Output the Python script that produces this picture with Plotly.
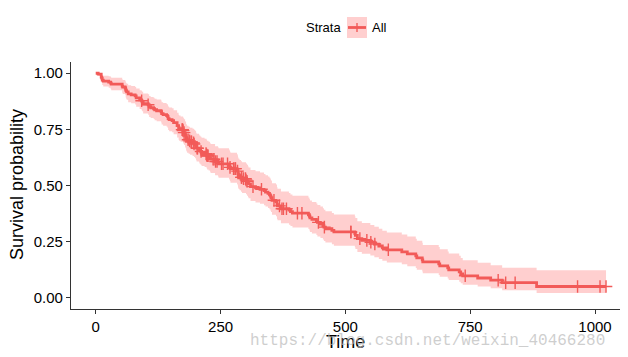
import numpy as np
import plotly.graph_objects as go

# Kaplan-Meier estimate (step times, survival, 95% CI)
times = [0, 5, 11, 12, 13, 15, 26, 30, 31, 53, 54, 59, 60, 61, 62, 65, 71, 79, 81, 88, 92, 93, 95, 105, 107, 110,
         116, 118, 122, 131, 132, 135, 142, 144, 145, 147, 153, 156, 163, 166, 167, 170, 175, 176, 177, 179, 180,
         181, 182, 183, 186, 189, 194, 197, 199, 201, 202, 207, 208, 210, 212, 218, 222, 223, 226, 229, 230, 239,
         245, 246, 267, 268, 269, 270, 283, 284, 285, 286, 288, 291, 293, 301, 303, 305, 306, 310, 320, 329, 337,
         340, 345, 348, 350, 351, 353, 361, 363, 364, 371, 387, 390, 394, 426, 428, 429, 433, 442, 444, 450, 455,
         457, 460, 473, 477, 519, 520, 524, 533, 550, 558, 567, 574, 583, 613, 624, 641, 643, 654, 655, 687, 689,
         705, 707, 728, 731, 735, 765, 791, 814, 883, 1022]

surv = [1.0, 0.9956, 0.9825, 0.9781, 0.9693, 0.9649, 0.9605, 0.9561, 0.9518, 0.9430, 0.9386, 0.9342, 0.9254, 0.9211,
        0.9167, 0.9079, 0.9035, 0.8991, 0.8904, 0.8816, 0.8772, 0.8728, 0.8640, 0.8596, 0.8507, 0.8463, 0.8418,
        0.8374, 0.8330, 0.8285, 0.8197, 0.8153, 0.8108, 0.8064, 0.7975, 0.7931, 0.7887, 0.7798, 0.7665, 0.7577,
        0.7532, 0.7488, 0.7443, 0.7398, 0.7353, 0.7262, 0.7217, 0.7126, 0.7081, 0.7035, 0.6989, 0.6943, 0.6897,
        0.6850, 0.6803, 0.6708, 0.6661, 0.6613, 0.6565, 0.6517, 0.6469, 0.6421, 0.6372, 0.6323, 0.6273, 0.6223,
        0.6172, 0.6070, 0.6019, 0.5967, 0.5913, 0.5860, 0.5807, 0.5753, 0.5698, 0.5642, 0.5531, 0.5475, 0.5419,
        0.5363, 0.5306, 0.5248, 0.5189, 0.5129, 0.5070, 0.4950, 0.4890, 0.4830, 0.4768, 0.4707, 0.4646, 0.4585,
        0.4524, 0.4463, 0.4340, 0.4278, 0.4154, 0.4092, 0.3965, 0.3899, 0.3833, 0.3767, 0.3698, 0.3630, 0.3561,
        0.3493, 0.3424, 0.3356, 0.3286, 0.3216, 0.3146, 0.3075, 0.3003, 0.2932, 0.2857, 0.2782, 0.2632, 0.2554,
        0.2474, 0.2392, 0.2306, 0.2221, 0.2136, 0.2047, 0.1958, 0.1869, 0.1780, 0.1691, 0.1602, 0.1513, 0.1424,
        0.1335, 0.1246, 0.1157, 0.1068, 0.0979, 0.0881, 0.0783, 0.0671, 0.0503, 0.0503]

lower = [1.0, 0.9871, 0.9656, 0.9593, 0.9472, 0.9413, 0.9356, 0.9299, 0.9244, 0.9134, 0.9079, 0.9026, 0.8919, 0.8868,
         0.8815, 0.8711, 0.8660, 0.8608, 0.8508, 0.8406, 0.8356, 0.8306, 0.8206, 0.8156, 0.8056, 0.8007, 0.7957,
         0.7908, 0.7859, 0.7809, 0.7712, 0.7664, 0.7614, 0.7566, 0.7469, 0.7421, 0.7373, 0.7277, 0.7134, 0.7039,
         0.6991, 0.6944, 0.6896, 0.6848, 0.6800, 0.6703, 0.6656, 0.6559, 0.6512, 0.6464, 0.6415, 0.6367, 0.6318,
         0.6269, 0.6219, 0.6120, 0.6071, 0.6020, 0.5970, 0.5920, 0.5870, 0.5820, 0.5769, 0.5718, 0.5666, 0.5614,
         0.5562, 0.5456, 0.5403, 0.5349, 0.5293, 0.5238, 0.5184, 0.5128, 0.5071, 0.5013, 0.4899, 0.4842, 0.4784,
         0.4727, 0.4669, 0.4609, 0.4549, 0.4488, 0.4427, 0.4305, 0.4245, 0.4184, 0.4121, 0.4060, 0.3998, 0.3937,
         0.3876, 0.3815, 0.3692, 0.3631, 0.3508, 0.3447, 0.3322, 0.3257, 0.3192, 0.3127, 0.3059, 0.2992, 0.2925,
         0.2859, 0.2792, 0.2726, 0.2658, 0.2591, 0.2524, 0.2456, 0.2387, 0.2319, 0.2248, 0.2176, 0.2035, 0.1962,
         0.1886, 0.1809, 0.1729, 0.1650, 0.1571, 0.1489, 0.1408, 0.1327, 0.1247, 0.1169, 0.1091, 0.1014, 0.0938,
         0.0863, 0.0789, 0.0716, 0.0645, 0.0575, 0.0498, 0.0423, 0.0338, 0.0207, 0.0207]

upper = [1.0, 1.0, 0.9997, 0.9973, 0.9920, 0.9891, 0.9861, 0.9831, 0.9800, 0.9736, 0.9703, 0.9669, 0.9601, 0.9568,
         0.9533, 0.9462, 0.9426, 0.9391, 0.9319, 0.9246, 0.9209, 0.9171, 0.9097, 0.9059, 0.8983, 0.8945, 0.8906,
         0.8867, 0.8829, 0.8790, 0.8712, 0.8674, 0.8634, 0.8595, 0.8515, 0.8476, 0.8436, 0.8356, 0.8236, 0.8156,
         0.8115, 0.8074, 0.8033, 0.7992, 0.7951, 0.7867, 0.7826, 0.7742, 0.7700, 0.7657, 0.7614, 0.7572, 0.7529,
         0.7485, 0.7442, 0.7353, 0.7309, 0.7264, 0.7219, 0.7174, 0.7129, 0.7084, 0.7038, 0.6992, 0.6945, 0.6898,
         0.6850, 0.6753, 0.6705, 0.6656, 0.6605, 0.6555, 0.6505, 0.6454, 0.6402, 0.6349, 0.6245, 0.6191, 0.6138,
         0.6085, 0.6030, 0.5975, 0.5919, 0.5862, 0.5806, 0.5691, 0.5634, 0.5576, 0.5516, 0.5458, 0.5399, 0.5340,
         0.5281, 0.5221, 0.5101, 0.5041, 0.4919, 0.4858, 0.4733, 0.4668, 0.4603, 0.4538, 0.4470, 0.4404, 0.4335,
         0.4268, 0.4199, 0.4132, 0.4062, 0.3992, 0.3922, 0.3851, 0.3778, 0.3707, 0.3632, 0.3556, 0.3404, 0.3325,
         0.3245, 0.3162, 0.3076, 0.2990, 0.2904, 0.2814, 0.2724, 0.2632, 0.2540, 0.2447, 0.2353, 0.2258, 0.2162,
         0.2065, 0.1968, 0.1869, 0.1769, 0.1667, 0.1560, 0.1450, 0.1333, 0.1224, 0.1224]

# censoring times
censor_times = [92, 105, 173, 174, 175, 177, 185, 188, 191, 192, 196, 197, 203, 204, 211, 221, 222, 223, 224, 225,
                235, 237, 240, 243, 252, 255, 264, 269, 276, 279, 280, 284, 292, 292, 296, 300, 301, 303, 315, 332,
                357, 368, 373, 376, 382, 404, 413, 446, 458, 511, 511, 529, 543, 551, 559, 586, 740, 806, 821, 840,
                965, 1010, 1022]

x_ticks = [0, 250, 500, 750, 1000]
y_ticks = [0.0, 0.25, 0.5, 0.75, 1.0]
y_ticklabels = ["0.00", "0.25", "0.50", "0.75", "1.00"]

strata_label = "All"
legend_title = "Strata"
x_title = "Time"
y_title = "Survival probability"
watermark = "https://blog.csdn.net/weixin_40466280"

RED = "#F25A58"
BAND = "rgba(255,140,140,0.42)"
FONT = "Liberation Sans, Arial, sans-serif"

assert len(times) == len(surv) == len(lower) == len(upper)

# survival value at each censoring time (step lookup)
idx = np.searchsorted(np.array(times), np.array(censor_times), side="right") - 1
censor_surv = [surv[i] for i in idx]

fig = go.Figure()
fig.add_trace(go.Scatter(x=times, y=lower, mode="lines", line=dict(width=0, shape="hv", color=BAND),
                         hoverinfo="skip", showlegend=False))
fig.add_trace(go.Scatter(x=times, y=upper, mode="lines", line=dict(width=0, shape="hv", color=BAND),
                         fill="tonexty", fillcolor=BAND, hoverinfo="skip", showlegend=False))
fig.add_trace(go.Scatter(x=times, y=surv, mode="lines", line=dict(width=2.8, shape="hv", color=RED),
                         name=strata_label, showlegend=False))
fig.add_trace(go.Scatter(x=censor_times, y=censor_surv, mode="markers",
                         marker=dict(symbol="cross-thin", size=9, line=dict(width=1.4, color=RED), color=RED),
                         showlegend=False))

# page body has an 8px margin: the figure is offset by O pixels
O = 8
W, H = 620, 349
L, R, T, B = 63, 8, 54, 48
pw, ph = W - L - R, H - T - B


def px(xp):
    return (xp - O - L) / pw


def py(yp):
    return (H - B - (yp - O)) / ph


# manual legend (ggplot style)
fig.add_shape(type="rect", xref="paper", yref="paper", x0=px(347), x1=px(367), y0=py(38), y1=py(17),
              fillcolor=BAND, line=dict(width=0))
fig.add_shape(type="line", xref="paper", yref="paper", x0=px(348), x1=px(366), y0=py(27.5), y1=py(27.5),
              line=dict(color=RED, width=2.8))
fig.add_shape(type="line", xref="paper", yref="paper", x0=px(357), x1=px(357), y0=py(23), y1=py(32),
              line=dict(color=RED, width=1.4))
fig.add_annotation(text=legend_title, xref="paper", yref="paper", x=px(343), y=py(27.5), xanchor="right",
                   yanchor="middle", showarrow=False, font=dict(family=FONT, size=13, color="black"))
fig.add_annotation(text=strata_label, xref="paper", yref="paper", x=px(370), y=py(27.5), xanchor="left",
                   yanchor="middle", showarrow=False, font=dict(family=FONT, size=13, color="black"))
# axis titles
fig.add_annotation(text=x_title, xref="paper", yref="paper", x=px(345.5), y=py(342), xanchor="center",
                   yanchor="middle", showarrow=False, font=dict(family=FONT, size=18, color="black"))
fig.add_annotation(text=y_title, xref="paper", yref="paper", x=px(17), y=py(185), xanchor="center",
                   yanchor="middle", textangle=-90, showarrow=False,
                   font=dict(family=FONT, size=18, color="black"))
fig.add_annotation(text=watermark, xref="paper", yref="paper", x=px(248), y=py(341), xanchor="left",
                   yanchor="middle", showarrow=False,
                   font=dict(family="Liberation Mono, DejaVu Sans Mono, monospace", size=16,
                             color="rgba(185,185,185,0.7)"))

fig.update_layout(
    width=W, height=H,
    margin=dict(l=L, r=R, t=T, b=B, autoexpand=False),
    paper_bgcolor="white", plot_bgcolor="white",
    showlegend=False,
    font=dict(family=FONT, color="black"),
    xaxis=dict(range=[-49.5, 1050], tickvals=x_ticks, ticks="outside", ticklen=4, tickwidth=1, tickcolor="#333",
               showline=True, linecolor="#333", linewidth=1.1, showgrid=False, zeroline=False, automargin=False,
               tickfont=dict(size=15, color="black", family=FONT)),
    yaxis=dict(range=[-0.05, 1.05], tickvals=y_ticks, ticktext=y_ticklabels, ticks="outside", ticklen=4,
               tickwidth=1, tickcolor="#333", showline=True, linecolor="#333", linewidth=1.1, showgrid=False,
               zeroline=False, automargin=False, tickfont=dict(size=15, color="black", family=FONT)),
)

fig.write_html("out.html")
